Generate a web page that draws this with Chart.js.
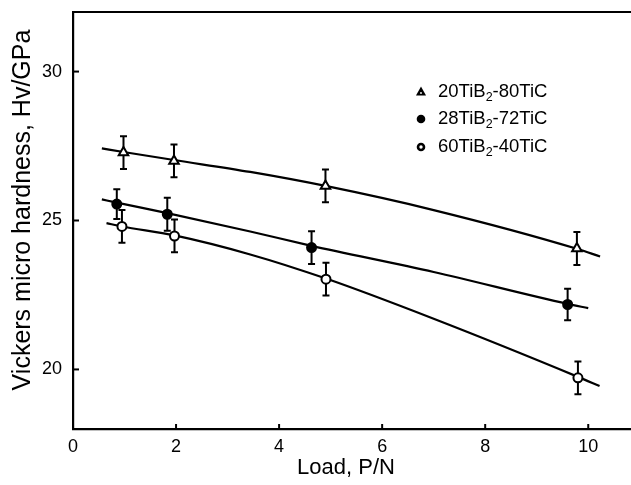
<!DOCTYPE html>
<html><head><meta charset="utf-8">
<script src="https://cdn.jsdelivr.net/npm/chart.js@4.4.0/dist/chart.umd.min.js"></script>
<style>html,body{margin:0;padding:0;background:#fff}#wrap{width:631px;height:485px;position:relative}</style>
</head><body><div id="wrap"><canvas id="c"></canvas></div>
<script>
// ---- data ----
const seriesNames = [['20TiB','2','-80TiC'],['28TiB','2','-72TiC'],['60TiB','2','-40TiC']];
const loadTri = [0.98, 1.96, 4.90, 9.78];
const hvTri   = [27.28, 27.00, 26.16, 24.06];
const errTri  = [0.55, 0.55, 0.55, 0.55];
const loadSq  = [0.85, 1.83, 4.63, 9.60];
const hvSq    = [25.55, 25.21, 24.09, 22.18];
const errSq   = [0.50, 0.55, 0.55, 0.53];
const loadCir = [0.95, 1.97, 4.91, 9.80];
const hvCir   = [24.80, 24.48, 23.03, 19.72];
const errCir  = [0.55, 0.55, 0.55, 0.55];
// fitted curves
const fitTriX = [0.56, 0.98, 1.96, 3.44, 4.90, 7.00, 9.78, 10.23];
const fitTriY = [27.42, 27.30, 27.03, 26.63, 26.16, 25.35, 24.05, 23.79];
const fitSqX  = [0.56, 0.85, 1.83, 3.44, 4.63, 7.00, 9.60, 10.00];
const fitSqY  = [25.71, 25.60, 25.25, 24.63, 24.15, 23.27, 22.20, 22.06];
const fitCirX = [0.65, 0.95, 1.97, 3.44, 4.91, 7.00, 9.80, 10.22];
const fitCirY = [24.91, 24.80, 24.50, 23.86, 23.05, 21.70, 19.75, 19.44];
const xTicks = [0, 2, 4, 6, 8, 10];
const yTicks = [20, 25, 30];
const xTitle = 'Load, P/N';
const yTitle = 'Vickers micro hardness, Hv/GPa';

const pts = (xs, ys) => xs.map((x, i) => ({x: x, y: ys[i]}));
const FONT = '"Liberation Sans", Arial, Helvetica, sans-serif';

const fitDs = (xs, ys) => ({
  type: 'line', data: pts(xs, ys), borderColor: '#000', borderWidth: 2.2,
  pointRadius: 0, fill: false, cubicInterpolationMode: 'monotone', order: 5
});
const markDs = (xs, ys, style, fill, r) => ({
  type: 'line', data: pts(xs, ys), showLine: false, pointStyle: style,
  pointRadius: r, pointBackgroundColor: fill, pointBorderColor: '#000',
  pointBorderWidth: 2, order: 1
});

const errorSets = [[loadTri, hvTri, errTri], [loadSq, hvSq, errSq], [loadCir, hvCir, errCir]];

const decorPlugin = {
  id: 'decor',
  beforeDatasetsDraw(chart) {
    const ctx = chart.ctx, xs = chart.scales.x, ys = chart.scales.y;
    ctx.save();
    ctx.strokeStyle = '#000'; ctx.lineWidth = 2;
    errorSets.forEach(([lx, hy, er]) => {
      lx.forEach((x, i) => {
        const px = xs.getPixelForValue(x);
        const top = ys.getPixelForValue(hy[i] + er[i]);
        const bot = ys.getPixelForValue(hy[i] - er[i]);
        ctx.beginPath();
        ctx.moveTo(px, top); ctx.lineTo(px, bot);
        ctx.moveTo(px - 3.5, top); ctx.lineTo(px + 3.5, top);
        ctx.moveTo(px - 3.5, bot); ctx.lineTo(px + 3.5, bot);
        ctx.stroke();
      });
    });
    ctx.restore();
  },
  afterDraw(chart) {
    const ctx = chart.ctx, a = chart.chartArea, xs = chart.scales.x, ys = chart.scales.y;
    ctx.save();
    ctx.strokeStyle = '#000';
    // top frame line
    ctx.lineWidth = 2.2;
    ctx.beginPath(); ctx.moveTo(a.left - 1, a.top); ctx.lineTo(chart.width, a.top); ctx.stroke();
    // inward ticks
    ctx.lineWidth = 2;
    xTicks.forEach(v => {
      if (v === 0) return;
      const px = xs.getPixelForValue(v);
      ctx.beginPath(); ctx.moveTo(px, a.bottom); ctx.lineTo(px, a.bottom - 5); ctx.stroke();
    });
    yTicks.forEach(v => {
      const py = ys.getPixelForValue(v);
      ctx.beginPath(); ctx.moveTo(a.left, py); ctx.lineTo(a.left + 6, py); ctx.stroke();
    });
    // axis titles
    ctx.fillStyle = '#000'; ctx.textAlign = 'center'; ctx.textBaseline = 'middle';
    ctx.font = '22px ' + FONT;
    ctx.fillText(xTitle, 346, 468);
    ctx.save();
    ctx.translate(23, 210); ctx.rotate(-Math.PI / 2);
    ctx.font = '25px ' + FONT;
    ctx.fillText(yTitle, 0, 0);
    ctx.restore();
    // legend
    const lx = 421, tx = 438, rows = [92, 119, 147];
    rows.forEach((y, i) => {
      ctx.fillStyle = '#000'; ctx.strokeStyle = '#000';
      if (i === 0) {
        ctx.beginPath(); ctx.moveTo(lx, y - 5.5); ctx.lineTo(lx + 5, y + 3.5); ctx.lineTo(lx - 5, y + 3.5); ctx.closePath(); ctx.fill();
        ctx.fillStyle = '#fff'; ctx.beginPath(); ctx.arc(lx, y + 1, 0.9, 0, Math.PI * 2); ctx.fill();
      } else if (i === 1) {
        ctx.beginPath(); ctx.arc(lx, y, 4.3, 0, Math.PI * 2); ctx.fill();
      } else {
        ctx.lineWidth = 2.6; ctx.beginPath(); ctx.arc(lx, y, 3, 0, Math.PI * 2); ctx.stroke();
      }
      const [p1, sub, p2] = seriesNames[i];
      ctx.fillStyle = '#000'; ctx.textBaseline = 'middle'; ctx.textAlign = 'left';
      ctx.font = '18.5px ' + FONT;
      ctx.fillText(p1, tx, y);
      let w = ctx.measureText(p1).width;
      ctx.font = '12.5px ' + FONT;
      ctx.fillText(sub, tx + w, y + 6);
      w += ctx.measureText(sub).width;
      ctx.font = '18.5px ' + FONT;
      ctx.fillText(p2, tx + w, y);
    });
    ctx.restore();
  }
};

new Chart(document.getElementById('c'), {
  type: 'line',
  data: {
    datasets: [
      fitDs(fitTriX, fitTriY), fitDs(fitSqX, fitSqY), fitDs(fitCirX, fitCirY),
      markDs(loadTri, hvTri, 'triangle', '#fff', 5.5),
      markDs(loadSq, hvSq, 'circle', '#000', 4.5),
      markDs(loadCir, hvCir, 'circle', '#fff', 4.5)
    ]
  },
  options: {
    responsive: true, maintainAspectRatio: false, animation: false,
    layout: {autoPadding: false, padding: {top: 12, left: 0, right: 0, bottom: 0}},
    plugins: {legend: {display: false}, tooltip: {enabled: false}},
    scales: {
      x: {
        type: 'linear', min: 0, max: 10.83,
        afterBuildTicks: s => { s.ticks = xTicks.map(v => ({value: v})); },
        afterFit: s => { s.height = 56; s.paddingLeft = 0; s.paddingRight = 0; },
        grid: {display: false, drawTicks: false},
        border: {display: true, color: '#000', width: 2.2},
        ticks: {color: '#000', padding: 7, font: {family: FONT, size: 18}, maxRotation: 0},
        title: {display: false, text: xTitle}
      },
      y: {
        type: 'linear', min: 18, max: 32,
        afterBuildTicks: s => { s.ticks = yTicks.map(v => ({value: v})); },
        afterFit: s => { s.width = 73; s.paddingTop = 0; s.paddingBottom = 0; },
        grid: {display: false, drawTicks: false},
        border: {display: true, color: '#000', width: 2.2},
        ticks: {color: '#000', padding: 11, font: {family: FONT, size: 18}},
        title: {display: false, text: yTitle}
      }
    }
  },
  plugins: [decorPlugin]
});
</script>
</body></html>
